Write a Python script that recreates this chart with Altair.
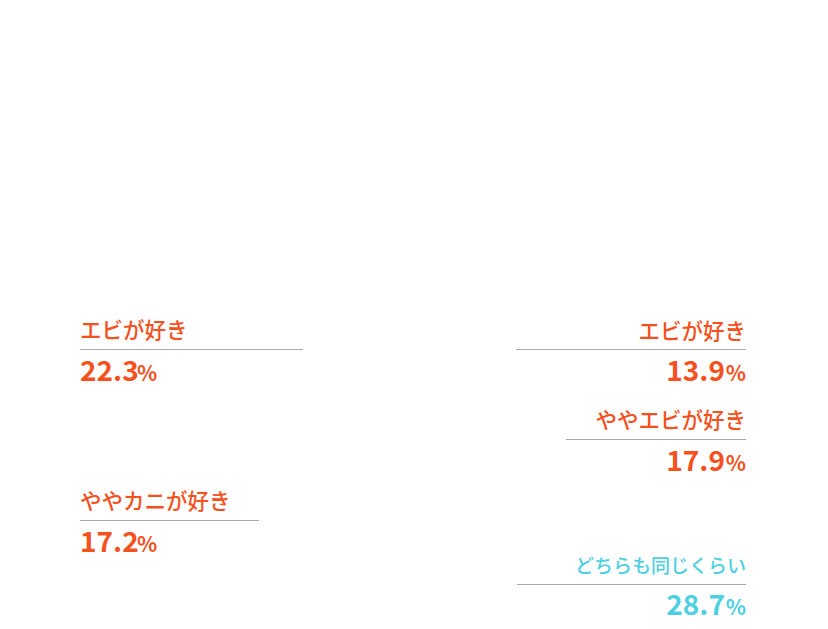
import altair as alt
import pandas as pd

# data
categories = ["エビが好き", "エビが好き", "ややエビが好き", "ややカニが好き", "どちらも同じくらい"]
values = [22.3, 13.9, 17.9, 17.2, 28.7]
groups = ["like", "like", "like", "like", "same"]

# label layout (screen-space anchors of each callout)
side = ["left", "right", "right", "left", "right"]
label_y = [332, 333, 422, 503, 567]
rule_y = [349.5, 349.5, 439.5, 520.5, 584.5]
value_y = [381, 381, 471, 552, 615]
rule_x1 = [80, 516, 566, 80, 517]
rule_x2 = [303, 746, 746, 259, 746]

df = pd.DataFrame({
    "category": categories, "value": values, "group": groups, "side": side,
    "ly": label_y, "ry": rule_y, "vy": value_y, "rx1": rule_x1, "rx2": rule_x2,
})
df["ax"] = [80 if s == "left" else 746 for s in side]
df["pct_x"] = [137 if s == "left" else 746 for s in side]
df["num_x"] = [80 if s == "left" else 725 for s in side]
df["pct"] = "%"

W, H = 812, 619
xs = alt.Scale(domain=[8, 8 + W], range=[0, W])
ys = alt.Scale(domain=[8, 8 + H], range=[0, H])
color = alt.Color("group:N", scale=alt.Scale(domain=["like", "same"], range=["#F4511E", "#4DD0E1"]), legend=None)

base = alt.Chart(df)
font = "Noto Sans CJK JP"

rules = base.mark_rule(color="#aaaaaa", strokeWidth=1).encode(
    x=alt.X("rx1:Q", scale=xs, axis=None),
    x2="rx2:Q",
    y=alt.Y("ry:Q", scale=ys, axis=None),
)

label_size = alt.condition(alt.datum.group == "same", alt.value(19), alt.value(21.5))

layers = [rules]
for s, al in [("left", "left"), ("right", "right")]:
    b = base.transform_filter(alt.datum.side == s)
    layers.append(b.mark_text(align=al, baseline="middle", font=font, fontWeight=500).encode(
        x=alt.X("ax:Q", scale=xs, axis=None), y=alt.Y("ly:Q", scale=ys, axis=None),
        text="category:N", color=color, size=label_size))
    layers.append(b.mark_text(align=al, baseline="alphabetic", font=font, fontSize=28, fontWeight="bold").encode(
        x=alt.X("num_x:Q", scale=xs, axis=None), y=alt.Y("vy:Q", scale=ys, axis=None),
        text=alt.Text("value:Q", format=".1f"), color=color))
    layers.append(b.mark_text(align=al, baseline="alphabetic", font=font, fontSize=21, fontWeight="bold").encode(
        x=alt.X("pct_x:Q", scale=xs, axis=None), y=alt.Y("vy:Q", scale=ys, axis=None),
        text="pct:N", color=color))

chart = alt.layer(*layers).properties(
    width=W, height=H, padding=0, autosize=alt.AutoSizeParams(type="none")
).configure_view(stroke=None)

chart.save("out.html", embed_options={"renderer": "svg", "actions": False})
